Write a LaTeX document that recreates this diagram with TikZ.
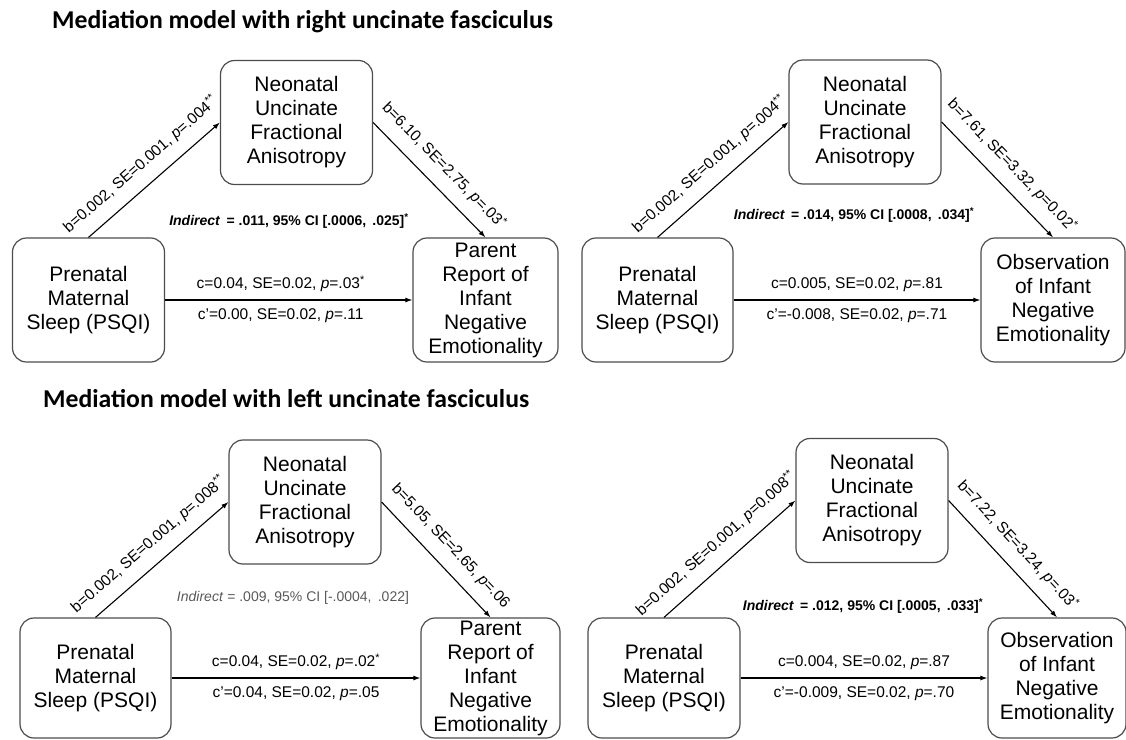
\documentclass[tikz,border=0pt]{standalone}
\usepackage{fontspec}
\setmainfont{Liberation Sans}
\newfontfamily\titlefont{Carlito}
\usetikzlibrary{arrows.meta,positioning}

\begin{document}
\begin{tikzpicture}[
  x=1pt, y=-1pt,
  font=\fontsize{21}{24}\selectfont,
  var/.style={draw=black!70, line width=1.2pt, rounded corners=14pt, align=center, inner sep=1pt, minimum width=152pt, minimum height=124pt},
  arrow/.style={-{Latex[length=7pt,width=5pt]}, line width=1.1pt},
  coef/.style={font=\fontsize{15.5}{18}\selectfont, inner sep=1pt},
  ind/.style={font=\bfseries\fontsize{14}{16}\selectfont},
  heading/.style={font=\titlefont\bfseries\fontsize{25.7}{28}\selectfont, anchor=base west, inner sep=0pt}
]
\useasboundingbox (0,0) rectangle (1126,739);

% right uncinate fasciculus
\node[heading] (t1) at (52,28) {Mediation model with right uncinate fasciculus};
\node[var] (x1) at (88.5,300) {Prenatal\\Maternal\\Sleep (PSQI)};
\node[var] (m1) at (296.5,122.5) {Neonatal\\Uncinate\\Fractional\\Anisotropy};
\node[var, minimum width=145pt] (y1) at (485.5,300) {Parent\\Report of\\Infant\\Negative\\Emotionality};
\node[ind] (i1) at (289,221) {\textit{Indirect} \,= .011, 95\% CI [.0006, \,.025]\textsuperscript{*}};
\draw[arrow] (x1.north) -- node[coef, sloped, above=11pt] {b=0.002, SE=0.001, \textit{p}=.004\textsuperscript{**}} (m1.west);
\draw[arrow] (m1.east) -- node[coef, sloped, above=11pt] {b=6.10, SE=2.75, \textit{p}=.03\textsuperscript{*}} (y1.north);
\draw[arrow] (x1) -- node[coef, above=7pt, xshift=-8pt] {c=0.04, SE=0.02, \textit{p}=.03\textsuperscript{*}} node[coef, below=7pt, xshift=-8pt] {c'=0.00, SE=0.02, \textit{p}=.11} (y1);

\node[var, minimum width=151pt] (x2) at (657.5,300) {Prenatal\\Maternal\\Sleep (PSQI)};
\node[var] (m2) at (865,122) {Neonatal\\Uncinate\\Fractional\\Anisotropy};
\node[var, minimum width=144pt] (y2) at (1053,300) {Observation\\of Infant\\Negative\\Emotionality};
\node[ind] (i2) at (854,215) {\textit{Indirect} \,= .014, 95\% CI [.0008, \,.034]\textsuperscript{*}};
\draw[arrow] (x2.north) -- node[coef, sloped, above=11pt] {b=0.002, SE=0.001, \textit{p}=.004\textsuperscript{**}} (m2.west);
\draw[arrow] (m2.east) -- node[coef, sloped, above=11pt] {b=7.61, SE=3.32, \textit{p}=0.02\textsuperscript{*}} (y2.north);
\draw[arrow] (x2) -- node[coef, above=7pt] {c=0.005, SE=0.02, \textit{p}=.81} node[coef, below=7pt] {c'=-0.008, SE=0.02, \textit{p}=.71} (y2);

% left uncinate fasciculus
\node[heading] (t2) at (43,407) {Mediation model with left uncinate fasciculus};
\node[var, minimum width=151pt, minimum height=120pt] (x3) at (95.5,678) {Prenatal\\Maternal\\Sleep (PSQI)};
\node[var] (m3) at (305,502) {Neonatal\\Uncinate\\Fractional\\Anisotropy};
\node[var, minimum width=139pt, minimum height=120pt] (y3) at (490.5,678) {Parent\\Report of\\Infant\\Negative\\Emotionality};
\node[ind, font=\fontsize{14}{16}\selectfont, text=black!65] (i3) at (293,598) {\textit{Indirect} = .009, 95\% CI [-.0004, \,.022]};
\draw[arrow] (x3.north) -- node[coef, sloped, above=11pt] {b=0.002, SE=0.001, \textit{p}=.008\textsuperscript{**}} (m3.west);
\draw[arrow] (m3.east) -- node[coef, sloped, above=11pt] {b=5.05, SE=2.65, \textit{p}=.06} (y3.north);
\draw[arrow] (x3) -- node[coef, above=7pt] {c=0.04, SE=0.02, \textit{p}=.02\textsuperscript{*}} node[coef, below=7pt] {c'=0.04, SE=0.02, \textit{p}=.05} (y3);

\node[var, minimum height=120pt] (x4) at (664,678) {Prenatal\\Maternal\\Sleep (PSQI)};
\node[var] (m4) at (872,500.5) {Neonatal\\Uncinate\\Fractional\\Anisotropy};
\node[var, minimum width=138pt, minimum height=120pt] (y4) at (1057,678) {Observation\\of Infant\\Negative\\Emotionality};
\node[ind] (i4) at (863,606) {\textit{Indirect} \,= .012, 95\% CI [.0005, \,.033]\textsuperscript{*}};
\draw[arrow] (x4.north) -- node[coef, sloped, above=11pt] {b=0.002, SE=0.001, \textit{p}=0.008\textsuperscript{**}} (m4.west);
\draw[arrow] (m4.east) -- node[coef, sloped, above=11pt] {b=7.22, SE=3.24, \textit{p}=.03\textsuperscript{*}} (y4.north);
\draw[arrow] (x4) -- node[coef, above=7pt] {c=0.004, SE=0.02, \textit{p}=.87} node[coef, below=7pt] {c'=-0.009, SE=0.02, \textit{p}=.70} (y4);
\end{tikzpicture}
\end{document}
